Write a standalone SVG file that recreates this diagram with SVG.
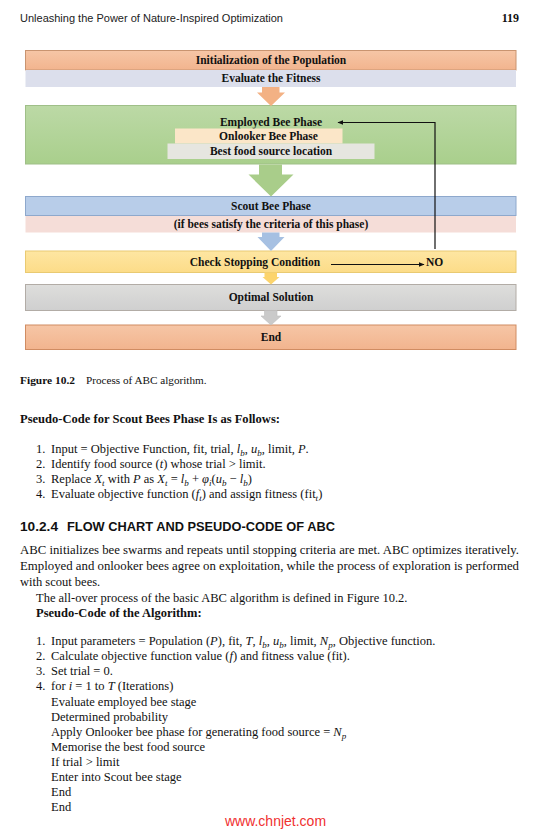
<svg xmlns="http://www.w3.org/2000/svg" width="551" height="832" viewBox="0 0 551 832">
<style>
.bx{font-family:"Liberation Serif",serif;font-weight:bold;font-size:11.5px;text-anchor:middle;fill:#111}
.tx{font-family:"Liberation Serif",serif;font-size:12.5px;fill:#111}
.bd{font-weight:bold}
.it{font-style:italic}
.sb{font-size:9px}
.hd{font-family:"Liberation Sans",sans-serif;font-size:11px;fill:#222}
.sh{font-family:"Liberation Sans",sans-serif;font-weight:bold;font-size:12px;fill:#111}
.ln{fill:none;stroke:#111;stroke-width:1.2}
</style>
<defs>
<linearGradient id="gOr" x1="0" y1="0" x2="0" y2="1"><stop offset="0" stop-color="#f6c6a6"/><stop offset="1" stop-color="#f2b48e"/></linearGradient>
<linearGradient id="gGr" x1="0" y1="0" x2="0" y2="1"><stop offset="0" stop-color="#bcd9a6"/><stop offset="1" stop-color="#a9cf8c"/></linearGradient>
<linearGradient id="gGy" x1="0" y1="0" x2="0" y2="1"><stop offset="0" stop-color="#dededc"/><stop offset="1" stop-color="#cfcfcf"/></linearGradient>
<linearGradient id="gYe" x1="0" y1="0" x2="0" y2="1"><stop offset="0" stop-color="#fee6a2"/><stop offset="1" stop-color="#fcdc88"/></linearGradient>
<marker id="ah" viewBox="0 0 10 10" refX="9" refY="5" markerWidth="6" markerHeight="6" markerUnits="userSpaceOnUse" orient="auto"><path d="M0,1 L10,5 L0,9 z" fill="#111"/></marker>
</defs>
<rect width="551" height="832" fill="#fff"/>

<g id="header">
<text class="hd" x="20" y="22" textLength="263" lengthAdjust="spacingAndGlyphs">Unleashing the Power of Nature-Inspired Optimization</text>
<text x="519" y="22" text-anchor="end" font-family="Liberation Serif,serif" font-weight="bold" font-size="12" fill="#111">119</text>
</g>

<g id="init">
<rect x="25.5" y="50.5" width="490.5" height="19.5" fill="url(#gOr)" stroke="#c99470" stroke-width="1"/>
<text class="bx" x="271" y="64.3">Initialization of the Population</text>
</g>
<g id="evaluate">
<rect x="25.5" y="70" width="490.5" height="17" fill="#dcdfec"/>
<text class="bx" x="271" y="82.3">Evaluate the Fitness</text>
</g>

<g id="employed">
<rect x="25.5" y="105.5" width="490.5" height="58.5" fill="url(#gGr)" stroke="#9fbf88" stroke-width="1"/>
<text class="bx" x="271" y="126">Employed Bee Phase</text>
</g>
<g id="onlooker">
<rect x="175" y="128.5" width="167.5" height="15" fill="#fbe6c8"/>
<text class="bx" x="268.5" y="140">Onlooker Bee Phase</text>
</g>
<g id="bestfood">
<rect x="167.5" y="143.5" width="207" height="15.5" fill="#e6e6e0"/>
<text class="bx" x="271" y="155">Best food source location</text>
</g>

<g id="scout">
<rect x="25.5" y="196.5" width="490.5" height="19" fill="#b8cde9" stroke="#8ea8cc" stroke-width="1"/>
<text class="bx" x="271" y="210">Scout Bee Phase</text>
</g>
<g id="criteria">
<rect x="25.5" y="216" width="490.5" height="16.5" fill="#f5ddd8"/>
<text class="bx" x="271" y="228">(if bees satisfy the criteria of this phase)</text>
</g>

<g id="check">
<rect x="25.5" y="251" width="490.5" height="21.5" fill="url(#gYe)" stroke="#e9ca72" stroke-width="1"/>
<text class="bx" x="255" y="266">Check Stopping Condition</text>
</g>
<g id="no">
<text class="bx" x="434.5" y="266">NO</text>
</g>

<g id="optimal">
<rect x="25.5" y="284.5" width="490.5" height="26" fill="url(#gGy)" stroke="#b2aca6" stroke-width="1"/>
<text class="bx" x="271" y="301">Optimal Solution</text>
</g>

<g id="end">
<rect x="25.5" y="325" width="490.5" height="24.5" fill="url(#gOr)" stroke="#d08c62" stroke-width="1"/>
<text class="bx" x="271" y="341">End</text>
</g>

<g id="connectors">
<polygon points="262,87 279.5,87 279.5,92.5 285,92.5 271,106 257,92.5 262,92.5" fill="#f3b184"/>
<polygon points="259,164.5 282,164.5 282,174.5 293.5,174.5 271,196.5 248.5,174.5 259,174.5" fill="#a9cd8a"/>
<polygon points="262,232.5 279.5,232.5 279.5,237 284.5,237 271,251 257.5,237 262,237" fill="#a6c0e2"/>
<polygon points="264.5,272.5 277,272.5 277,277 279.5,277 271,284.5 262.5,277 264.5,277" fill="#fcd46c"/>
<polygon points="264.5,310.5 277,310.5 277,316 281,316 271,325 261,316 264.5,316" fill="#cacaca" stroke="#bdbdbd" stroke-width="0.6"/>
<line class="ln" x1="331" y1="264.5" x2="424" y2="264.5" marker-end="url(#ah)"/>
<polyline class="ln" points="435,249 435,122.5 338,122.5" marker-end="url(#ah)"/>
</g>

<g id="caption">
<text x="20" y="383.5" font-family="Liberation Serif,serif" font-size="11.2" fill="#111"><tspan font-weight="bold" textLength="55" lengthAdjust="spacingAndGlyphs">Figure 10.2</tspan><tspan x="86">Process of ABC algorithm.</tspan></text>
</g>

<g id="scout-code">
<text class="tx bd" x="20" y="423" textLength="260" lengthAdjust="spacingAndGlyphs">Pseudo-Code for Scout Bees Phase Is as Follows:</text>
<text class="tx" x="36" y="453">1.</text>
<text class="tx" x="51" y="453">Input = Objective Function, fit, trial, <tspan class="it">l</tspan><tspan class="it sb" dy="3">b</tspan><tspan dy="-3">, </tspan><tspan class="it">u</tspan><tspan class="it sb" dy="3">b</tspan><tspan dy="-3">, limit, </tspan><tspan class="it">P</tspan>.</text>
<text class="tx" x="36" y="468">2.</text>
<text class="tx" x="51" y="468">Identify food source (<tspan class="it">t</tspan>) whose trial &gt; limit.</text>
<text class="tx" x="36" y="483">3.</text>
<text class="tx" x="51" y="483">Replace <tspan class="it">X</tspan><tspan class="it sb" dy="3">t</tspan><tspan dy="-3"> with </tspan><tspan class="it">P</tspan> as <tspan class="it">X</tspan><tspan class="it sb" dy="3">t</tspan><tspan dy="-3"> = </tspan><tspan class="it">l</tspan><tspan class="it sb" dy="3">b</tspan><tspan dy="-3"> + </tspan><tspan class="it">φ</tspan><tspan class="it sb" dy="3">i</tspan><tspan dy="-3">(</tspan><tspan class="it">u</tspan><tspan class="it sb" dy="3">b</tspan><tspan dy="-3"> − </tspan><tspan class="it">l</tspan><tspan class="it sb" dy="3">b</tspan><tspan dy="-3">)</tspan></text>
<text class="tx" x="36" y="498">4.</text>
<text class="tx" x="51" y="498">Evaluate objective function (<tspan class="it">f</tspan><tspan class="it sb" dy="3">t</tspan><tspan dy="-3">) and assign fitness (fit</tspan><tspan class="it sb" dy="3">t</tspan><tspan dy="-3">)</tspan></text>
</g>

<g id="section">
<text class="sh" x="20" y="531" textLength="38" lengthAdjust="spacingAndGlyphs">10.2.4</text>
<text class="sh" x="67" y="531" textLength="268" lengthAdjust="spacingAndGlyphs">FLOW CHART AND PSEUDO-CODE OF ABC</text>
<text class="tx" x="20" y="554" textLength="499" lengthAdjust="spacingAndGlyphs">ABC initializes bee swarms and repeats until stopping criteria are met. ABC optimizes iteratively.</text>
<text class="tx" x="20" y="570" textLength="499" lengthAdjust="spacingAndGlyphs">Employed and onlooker bees agree on exploitation, while the process of exploration is performed</text>
<text class="tx" x="20" y="586">with scout bees.</text>
<text class="tx" x="36" y="602">The all-over process of the basic ABC algorithm is defined in Figure 10.2.</text>
<text class="tx bd" x="36" y="617">Pseudo-Code of the Algorithm:</text>
</g>

<g id="algo-code">
<text class="tx" x="36" y="645">1.</text>
<text class="tx" x="51" y="645">Input parameters = Population (<tspan class="it">P</tspan>), fit, <tspan class="it">T</tspan>, <tspan class="it">l</tspan><tspan class="it sb" dy="3">b</tspan><tspan dy="-3">, </tspan><tspan class="it">u</tspan><tspan class="it sb" dy="3">b</tspan><tspan dy="-3">, limit, </tspan><tspan class="it">N</tspan><tspan class="it sb" dy="3">p</tspan><tspan dy="-3">, Objective function.</tspan></text>
<text class="tx" x="36" y="660">2.</text>
<text class="tx" x="51" y="660">Calculate objective function value (<tspan class="it">f</tspan>) and fitness value (fit).</text>
<text class="tx" x="36" y="675">3.</text>
<text class="tx" x="51" y="675">Set trial = 0.</text>
<text class="tx" x="36" y="690">4.</text>
<text class="tx" x="51" y="690">for <tspan class="it">i</tspan> = 1 to <tspan class="it">T</tspan> (Iterations)</text>
<text class="tx" x="51" y="706">Evaluate employed bee stage</text>
<text class="tx" x="51" y="721">Determined probability</text>
<text class="tx" x="51" y="736">Apply Onlooker bee phase for generating food source = <tspan class="it">N</tspan><tspan class="it sb" dy="3">p</tspan></text>
<text class="tx" x="51" y="751">Memorise the best food source</text>
<text class="tx" x="51" y="766">If trial &gt; limit</text>
<text class="tx" x="51" y="781">Enter into Scout bee stage</text>
<text class="tx" x="51" y="796">End</text>
<text class="tx" x="51" y="811">End</text>
</g>

<g id="watermark">
<text x="275.5" y="826" text-anchor="middle" font-family="Liberation Sans,sans-serif" font-size="14" fill="#f03030">www.chnjet.com</text>
</g>
</svg>
